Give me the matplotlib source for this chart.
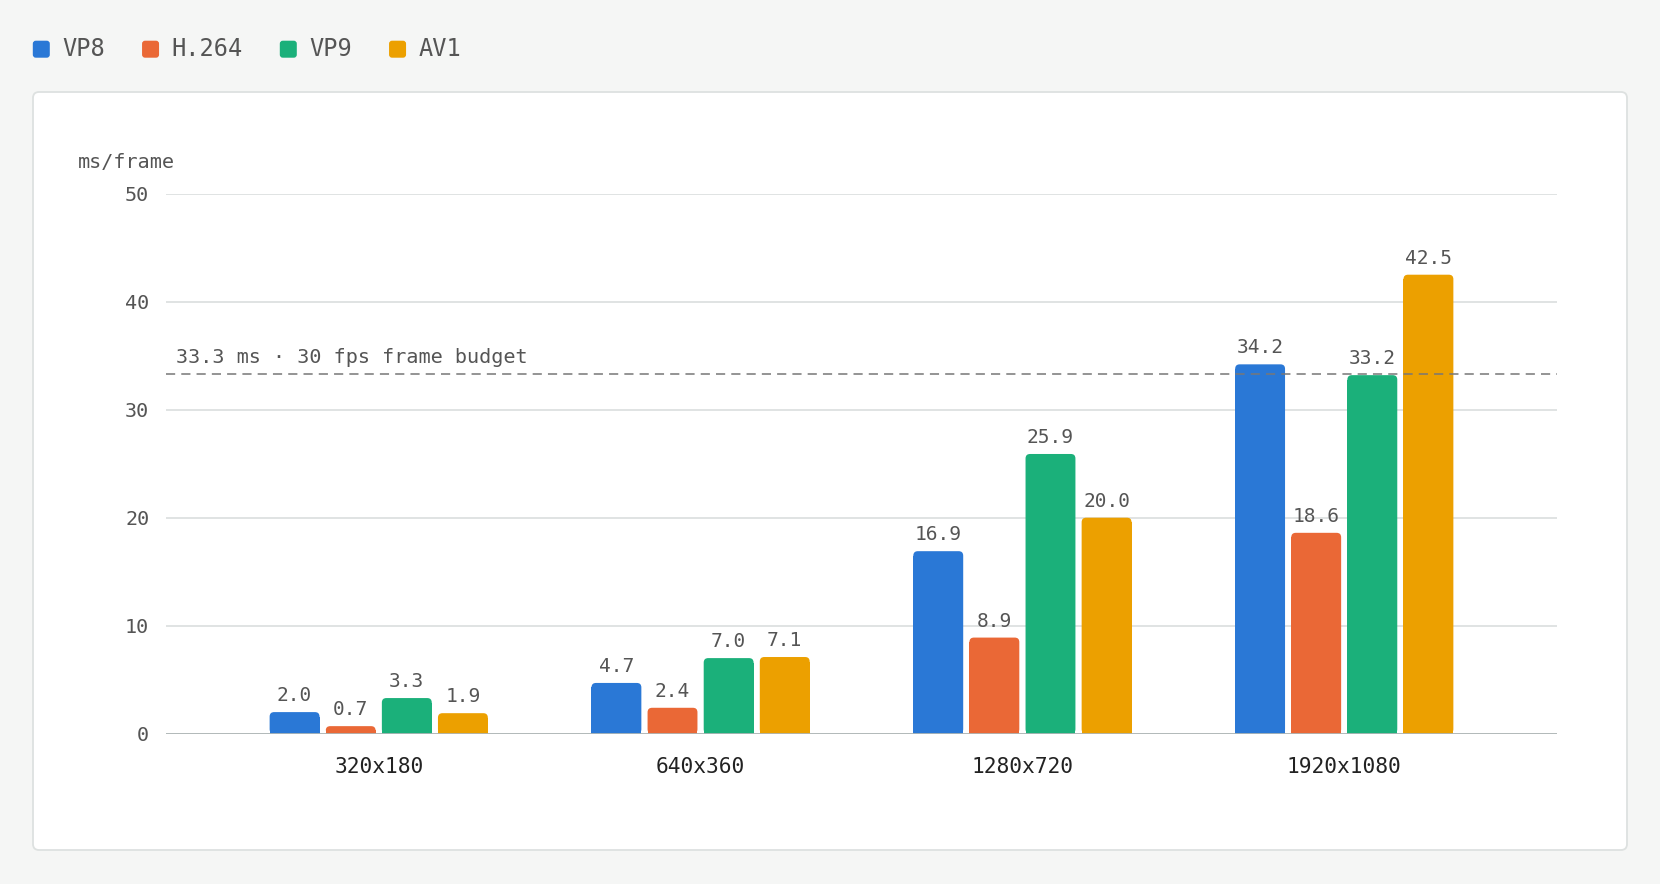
import matplotlib
matplotlib.use('Agg')
import matplotlib.pyplot as plt
from matplotlib.patches import FancyBboxPatch, Rectangle
import numpy as np

plt.rcParams['font.family'] = ['DejaVu Sans Mono']

# datos
resoluciones = ['320x180', '640x360', '1280x720', '1920x1080']
codecs = ['VP8', 'H.264', 'VP9', 'AV1']
vp8 = [2.0, 4.7, 16.9, 34.2]
h264 = [0.7, 2.4, 8.9, 18.6]
vp9 = [3.3, 7.0, 25.9, 33.2]
av1 = [1.9, 7.1, 20.0, 42.5]
budget = 33.3
budget_label = '33.3 ms · 30 fps frame budget'
y_ticks = [0, 10, 20, 30, 40, 50]

colores = ['#2a78d6', '#ea6836', '#1bb07a', '#eca000']
W, H = 1660, 884

fig = plt.figure(figsize=(W / 100, H / 100), dpi=100)
fig.patch.set_facecolor('#f5f6f5')

# panel blanco
panel = FancyBboxPatch((33 / W, 1 - 850 / H), (1627 - 33) / W, (850 - 92) / H,
                       boxstyle='round,pad=0,rounding_size=%f' % (6 / W),
                       mutation_aspect=W / H, transform=fig.transFigure,
                       facecolor='white', edgecolor='#dde1e0', linewidth=1.3, zorder=-5)
fig.patches.append(panel)

ax_l, ax_r, ax_t, ax_b = 166, 1557, 193.7, 733.7
ax = fig.add_axes([ax_l / W, 1 - ax_b / H, (ax_r - ax_l) / W, (ax_b - ax_t) / H])
ax.set_zorder(2)
ax.set_facecolor('none')

x = np.arange(len(resoluciones))
xlim = (-0.661, len(resoluciones) - 1 + 0.661)
ax.set_xlim(*xlim)
ax.set_ylim(0, 50)

ancho = 0.155
offsets = [-0.2615, -0.0872, 0.0872, 0.2615]
series = [vp8, h264, vp9, av1]

# relacion de aspecto para esquinas redondeadas
ux = (xlim[1] - xlim[0]) / (ax_r - ax_l)
uy = 50 / (ax_b - ax_t)
r_px = 4.5
for serie, off, col in zip(series, offsets, colores):
    bars = ax.bar(x + off, serie, width=ancho, color=col, alpha=0)
    for b, v in zip(bars, serie):
        x0 = b.get_x()
        ax.add_patch(FancyBboxPatch((x0, 0), ancho, v,
                                    boxstyle='round,pad=0,rounding_size=%f' % (r_px * ux),
                                    mutation_aspect=uy / ux, facecolor=col,
                                    edgecolor='none', zorder=3))
        ax.add_patch(Rectangle((x0, 0), ancho, max(v - r_px * uy, 0) if v > 2 * r_px * uy else v / 2,
                               facecolor=col, edgecolor='none', zorder=3))
    ax.bar_label(bars, labels=['%.1f' % v for v in serie], padding=5,
                 fontsize=14, color='#555555', alpha=1)

ax.set_yticks(y_ticks)
ax.set_yticklabels([str(t) for t in y_ticks])
ax.grid(axis='y', color='#dde1e0', linewidth=1.3, zorder=0)
ax.set_axisbelow(True)
ax.axhline(0, color='#aeb6b6', linewidth=2, zorder=4)
for s in ax.spines.values():
    s.set_visible(False)
ax.tick_params(axis='y', length=0, pad=12, labelsize=14.5, labelcolor='#555555')
ax.tick_params(axis='x', length=0, pad=17, labelsize=15.3, labelcolor='#222222')
ax.set_xticks(x)
ax.set_xticklabels(resoluciones)

# linea de presupuesto
ax.axhline(budget, color='#777777', linewidth=1.1, linestyle=(0, (6, 4)), zorder=5)
ax.annotate(budget_label, xy=(0, budget), xycoords=('axes fraction', 'data'),
            xytext=(7, 5), textcoords='offset points', ha='left', va='bottom',
            fontsize=14.5, color='#555555')

fig.text(78 / W, 1 - 162 / H, 'ms/frame', ha='left', va='center',
         fontsize=14.5, color='#555555')

# leyenda manual
renderer = fig.canvas.get_renderer()
xpos = 32.8
yc = 49.2
sq = 17
for nombre, col in zip(codecs, colores):
    fig.patches.append(FancyBboxPatch((xpos / W, 1 - (yc + sq / 2) / H), sq / W, sq / H,
                                      boxstyle='round,pad=0,rounding_size=%f' % (3 / W),
                                      mutation_aspect=W / H, transform=fig.transFigure,
                                      facecolor=col, edgecolor='none'))
    t = fig.text((xpos + sq + 12.5) / W, 1 - yc / H, nombre, ha='left', va='center',
                 fontsize=17, color='#555555')
    bb = t.get_window_extent(renderer)
    xpos = bb.x1 + 37

fig.savefig('out.png', dpi=100, facecolor=fig.get_facecolor())
